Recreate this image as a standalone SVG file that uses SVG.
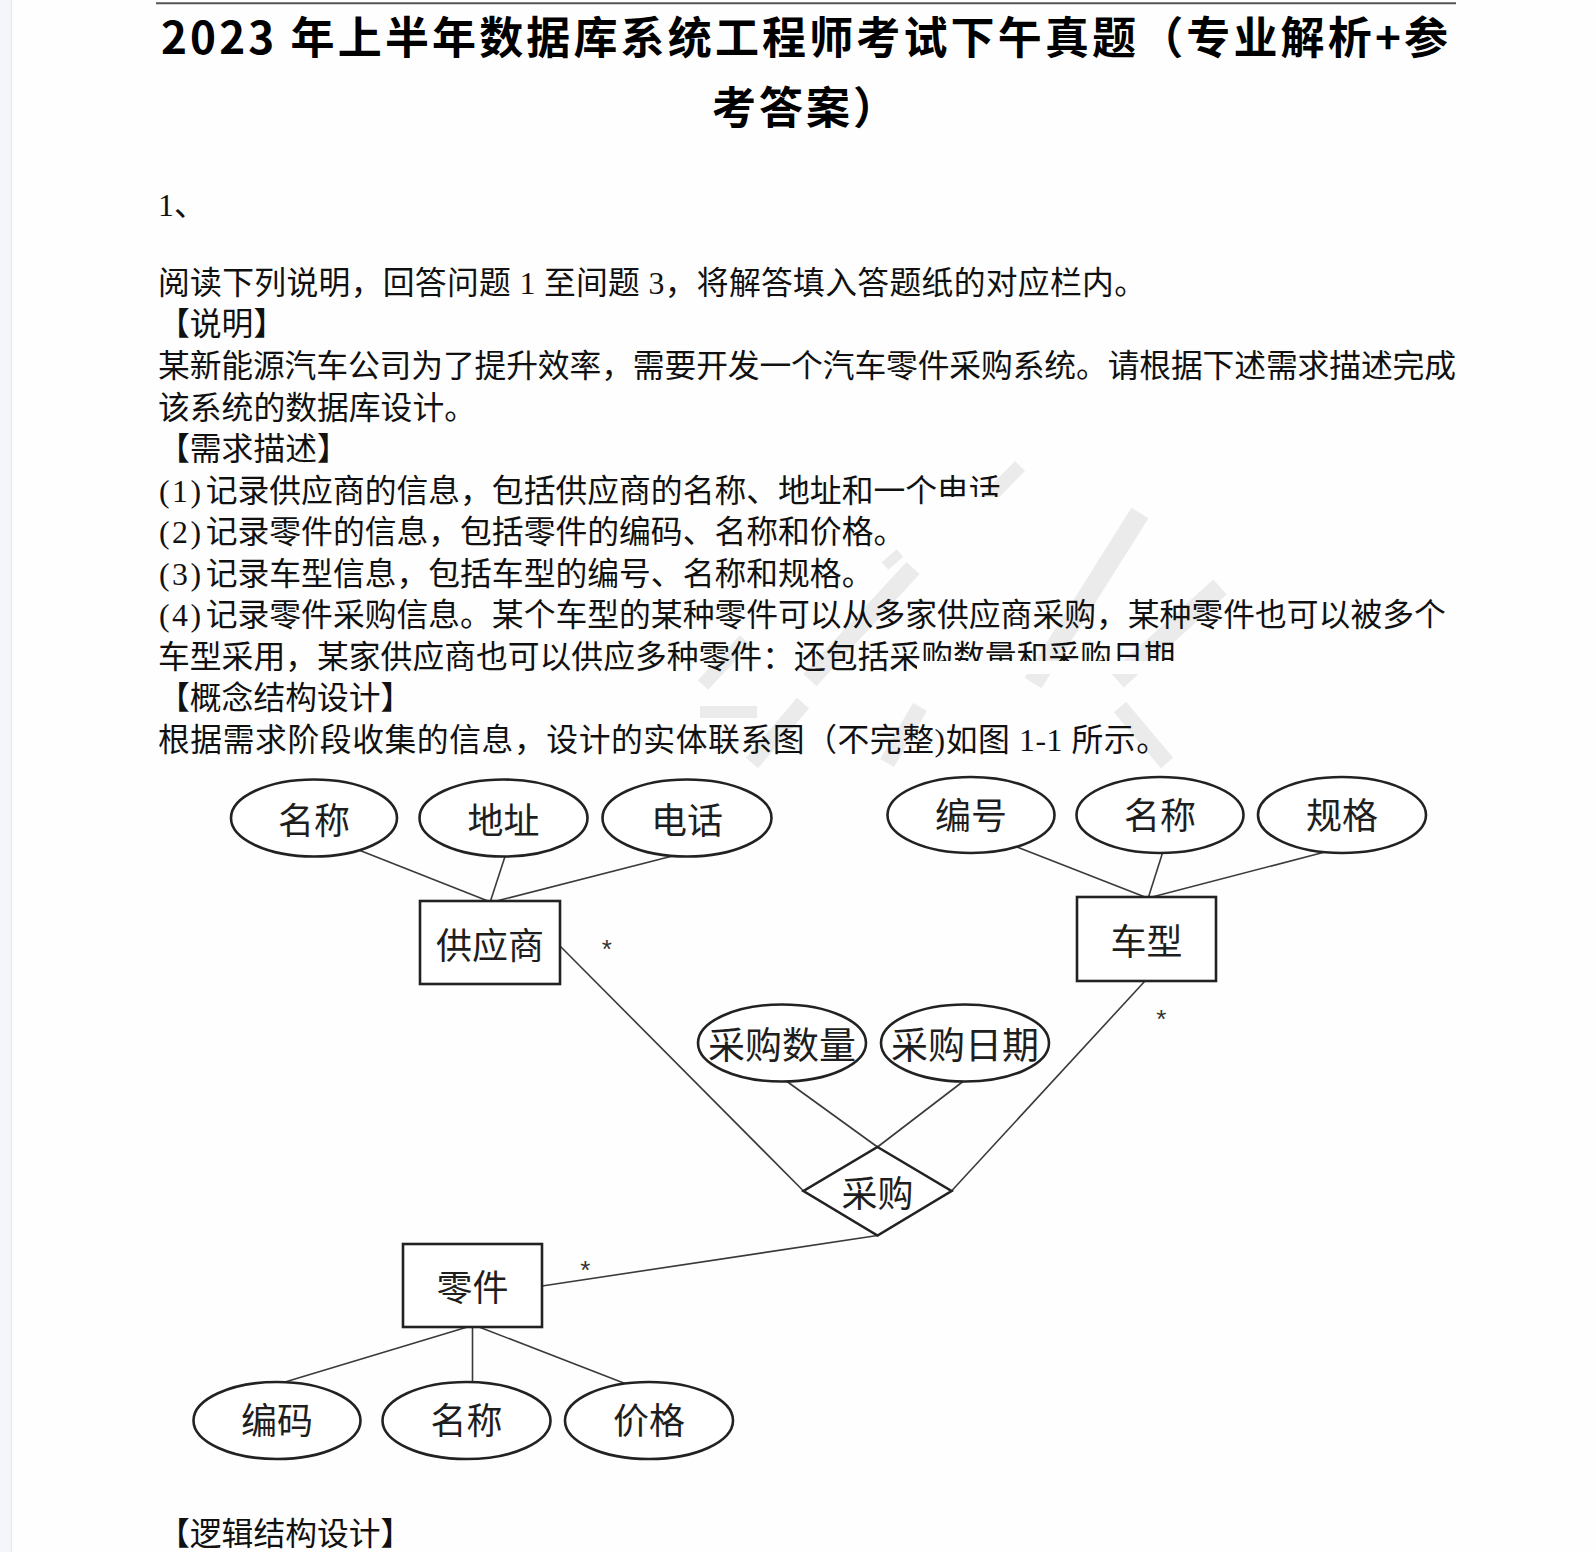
<svg xmlns="http://www.w3.org/2000/svg" width="1596" height="1552" viewBox="0 0 1596 1552">
<style>
.b{font-family:"Liberation Serif","Noto Sans CJK SC",serif;font-size:31.8px;fill:#111}
.t{font-family:"Noto Sans CJK SC","Liberation Sans",sans-serif;font-size:44px;font-weight:700;fill:#000}
.lbl{font-family:"Noto Sans CJK SC","Liberation Sans",sans-serif;font-size:36px;fill:#1e1e1e;text-anchor:middle;dominant-baseline:central}
.shape{fill:#fff;stroke:#222;stroke-width:2.6}
#connectors line{stroke:#3a3a3a;stroke-width:1.6}
.star{font-family:"Liberation Sans",sans-serif;font-size:26px;fill:#333;text-anchor:middle}
.wm{fill:none;stroke:#ebebeb;stroke-width:18}
</style>
<rect width="1596" height="1552" fill="#fefefe"/>
<rect x="0" y="0" width="11" height="1552" fill="#f5f6fa"/>
<line x1="11.5" y1="0" x2="11.5" y2="1552" stroke="#e6e6ec" stroke-width="1"/>

<g id="watermark" class="wm">
<path d="M1020 466 L985 502" stroke-width="14"/>
<path d="M1140 513 L1033 683" stroke-width="20"/>
<path d="M1220 587 L1117 680" stroke-width="20"/>
<path d="M913 568 L810 680" stroke-width="18"/>
<path d="M900 553 L885 566" stroke-width="10"/>
<path d="M745 640 L703 685" stroke-width="14"/>
<path d="M700 712 L757 712" stroke-width="12"/>
<path d="M803 703 L752 763" stroke-width="16"/>
<path d="M920 707 L887 763" stroke-width="16"/>
<path d="M1120 707 L1167 763" stroke-width="16"/>
</g>

<line x1="156" y1="3.3" x2="1456" y2="3.3" stroke="#555" stroke-width="2"/>
<g id="title">
<text class="t" x="161" y="54" textLength="1287" lengthAdjust="spacing">2023 年上半年数据库系统工程师考试下午真题（专业解析+参</text>
<text class="t" x="712" y="124" letter-spacing="3">考答案）</text>
</g>

<g id="body">
<text class="b" x="158" y="216.4">1、</text>
<text class="b" x="158" y="293.8" textLength="988" lengthAdjust="spacing">阅读下列说明，回答问题 1 至间题 3，将解答填入答题纸的对应栏内。</text>
<text class="b" x="158" y="335.4">【说明】</text>
<text class="b" x="158" y="376.9" textLength="1298" lengthAdjust="spacing">某新能源汽车公司为了提升效率，需要开发一个汽车零件采购系统。请根据下述需求描述完成</text>
<text class="b" x="158" y="418.5">该系统的数据库设计。</text>
<text class="b" x="158" y="460">【需求描述】</text>
<text class="b" y="501.6"><tspan x="159" letter-spacing="2.5">(1)</tspan><tspan x="205.7">记录供应商的信息，包括供应商的名称、地址和一个电话</tspan></text>
<text class="b" y="543.1"><tspan x="159" letter-spacing="2.5">(2)</tspan><tspan x="205.7">记录零件的信息，包括零件的编码、名称和价格。</tspan></text>
<text class="b" y="584.7"><tspan x="159" letter-spacing="2.5">(3)</tspan><tspan x="205.7">记录车型信息，包括车型的编号、名称和规格。</tspan></text>
<text class="b" y="626.2"><tspan x="159" letter-spacing="2.5">(4)</tspan><tspan x="205.7">记录零件采购信息。某个车型的某种零件可以从多家供应商采购，某种零件也可以被多个</tspan></text>
<text class="b" x="158" y="667.8">车型采用，某家供应商也可以供应多种零件：还包括采购数量和采购日期</text>
<text class="b" x="158" y="709.3">【概念结构设计】</text>
<text class="b" x="158" y="750.9" textLength="1010" lengthAdjust="spacing">根据需求阶段收集的信息，设计的实体联系图（不完整)如图 1-1 所示。</text>
<text class="b" x="158" y="1545">【逻辑结构设计】</text>
</g>
<rect x="935" y="497" width="80" height="13" fill="#fefefe"/>
<rect x="917" y="661" width="275" height="13" fill="#fefefe"/>

<g id="connectors">
<line x1="360" y1="850.5" x2="488" y2="901"/>
<line x1="505" y1="856.5" x2="490.5" y2="901"/>
<line x1="672.5" y1="856" x2="496.5" y2="901"/>
<line x1="1017" y1="847" x2="1145" y2="897"/>
<line x1="1162.5" y1="853" x2="1148.5" y2="897"/>
<line x1="1325" y1="852" x2="1152" y2="897"/>
<line x1="560" y1="946" x2="803.5" y2="1191"/>
<line x1="1145" y1="981" x2="951.5" y2="1191"/>
<line x1="787" y1="1081.5" x2="877.5" y2="1147"/>
<line x1="963" y1="1081.5" x2="877.5" y2="1147"/>
<line x1="877.5" y1="1235.5" x2="542" y2="1286"/>
<line x1="467.5" y1="1327" x2="285" y2="1382"/>
<line x1="472.5" y1="1327" x2="472.5" y2="1382"/>
<line x1="479" y1="1327" x2="625" y2="1383.5"/>
<text class="star" x="606.7" y="957.5">*</text>
<text class="star" x="1161.4" y="1027.5">*</text>
<text class="star" x="585.3" y="1279">*</text>
</g>

<g id="attr-supplier-name"><ellipse class="shape" cx="314" cy="818" rx="83" ry="38.5"/><text class="lbl" x="314" y="818">名称</text></g>
<g id="attr-supplier-address"><ellipse class="shape" cx="503.5" cy="818" rx="84" ry="38.5"/><text class="lbl" x="503.5" y="818">地址</text></g>
<g id="attr-supplier-phone"><ellipse class="shape" cx="687" cy="818" rx="84.5" ry="38.5"/><text class="lbl" x="687" y="818">电话</text></g>
<g id="entity-supplier"><rect class="shape" x="420" y="901" width="140" height="83"/><text class="lbl" x="490" y="942.5">供应商</text></g>

<g id="attr-model-id"><ellipse class="shape" cx="971" cy="815" rx="83.5" ry="38"/><text class="lbl" x="971" y="813">编号</text></g>
<g id="attr-model-name"><ellipse class="shape" cx="1160" cy="815" rx="83.5" ry="38"/><text class="lbl" x="1160" y="813">名称</text></g>
<g id="attr-model-spec"><ellipse class="shape" cx="1342" cy="815" rx="84" ry="38"/><text class="lbl" x="1342" y="813">规格</text></g>
<g id="entity-model"><rect class="shape" x="1077" y="897" width="139" height="84"/><text class="lbl" x="1146.5" y="939">车型</text></g>

<g id="attr-quantity"><ellipse class="shape" cx="782" cy="1043" rx="84" ry="38.5"/><text class="lbl" x="782" y="1043" style="font-size:37px">采购数量</text></g>
<g id="attr-date"><ellipse class="shape" cx="965" cy="1043" rx="84" ry="38.5"/><text class="lbl" x="965" y="1043" style="font-size:37px">采购日期</text></g>
<g id="rel-purchase"><polygon class="shape" points="877.5,1147 951.5,1191 877.5,1235.5 803.5,1191"/><text class="lbl" x="877.5" y="1191">采购</text></g>

<g id="entity-part"><rect class="shape" x="403" y="1244" width="139" height="83"/><text class="lbl" x="472.5" y="1285">零件</text></g>
<g id="attr-part-code"><ellipse class="shape" cx="277" cy="1420.5" rx="83.5" ry="38.5"/><text class="lbl" x="277" y="1418">编码</text></g>
<g id="attr-part-name"><ellipse class="shape" cx="466.5" cy="1420.5" rx="84" ry="38.5"/><text class="lbl" x="466.5" y="1418">名称</text></g>
<g id="attr-part-price"><ellipse class="shape" cx="649" cy="1420.5" rx="84" ry="38.5"/><text class="lbl" x="649" y="1418">价格</text></g>
</svg>
